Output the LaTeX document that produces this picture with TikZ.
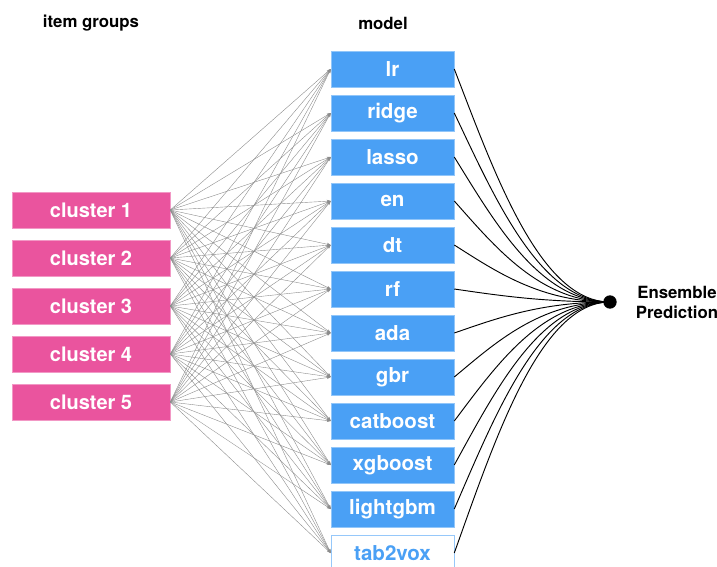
\documentclass[tikz,border=0pt]{standalone}
\usepackage{fontspec}
\setmainfont{TeX Gyre Heros}
\usepackage{xcolor}
\usetikzlibrary{arrows.meta,calc}
\definecolor{clusterpink}{RGB}{234,84,158}
\definecolor{modelblue}{RGB}{74,160,245}
\definecolor{paleblue}{RGB}{150,200,250}

\begin{document}
\begin{tikzpicture}[x=0.75pt,y=0.75pt,yscale=-1,xscale=1,
  clusterbox/.style={draw=clusterpink!60!white, fill=clusterpink, text=white, minimum width=118.5pt, minimum height=27pt, inner sep=0pt, font=\fontsize{15}{18}\selectfont\bfseries},
  modelbox/.style={draw=modelblue!60!white, fill=modelblue, text=white, minimum width=92.25pt, minimum height=27pt, inner sep=0pt, font=\fontsize{15.4}{18}\selectfont\bfseries},
  header/.style={font=\fontsize{12.6}{15}\selectfont\bfseries},
  fan/.style={draw=black!45, line width=0.3pt, -{Stealth[length=3pt,width=2.2pt]}},
  vote/.style={draw=black, line width=0.7pt}]
\clip (0,0) rectangle (717,567);
% Text Node
\node[header] (grouphead) at (91,23) {item groups};
% Text Node
\node[header] (modelhead) at (383,23) {model};
% clusters
\foreach \i in {1,...,5}
  \node[clusterbox] (c\i) at (91,{162+48*\i}) {cluster \i};
% models
\foreach \name [count=\j] in {lr,ridge,lasso,en,dt,rf,ada,gbr,catboost,xgboost,lightgbm}
  \node[modelbox] (m\j) at (392.5,{25+44*\j}) {\name};
\node[modelbox, fill=white, draw=paleblue, text=modelblue] (m12) at (392.5,553) {tab2vox};
% ensemble
\node[circle, fill=black, inner sep=0pt, minimum size=10pt] (ens) at (610,302) {};
\node[align=center, font=\fontsize{12.6}{15}\selectfont\bfseries] (enslabel) at (677,302) {Ensemble\\Prediction};
% links
\foreach \i in {1,...,5}
  \foreach \j in {1,...,12}
    \draw[fan] (c\i.east) -- (m\j.west);
\foreach \j in {1,...,12}{
  \path (m\j.east) coordinate (s)
    ($(s)!0.26!(ens.center)$) coordinate (sa)
    ($(s)!0.45!(ens.center)$) coordinate (sb)
    ($(ens.center)!0.45!(s)$) coordinate (se);
  \draw[vote] (s) .. controls (sa |- sb) and (se |- ens.center) .. (ens.center);
}
\end{tikzpicture}
\end{document}
